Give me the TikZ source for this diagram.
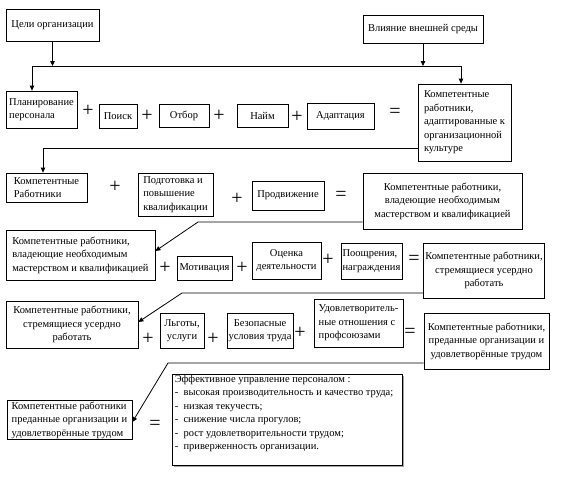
\documentclass[tikz,border=0pt]{standalone}
\usepackage{fontspec}
\setmainfont{Liberation Serif}
\usetikzlibrary{arrows.meta,shadows}
\begin{document}
\begin{tikzpicture}[x=1pt,y=-1pt,
  box/.style={draw, line width=0.8pt, inner sep=1.5pt, align=left,
    font=\fontsize{10.5}{13.5}\selectfont},
  cbox/.style={box, align=center},
  sign/.style={inner sep=0pt, font=\fontsize{20}{20}\selectfont},
  arr/.style={-{Triangle[length=5pt,width=4.5pt]}, line width=0.8pt},
  ln/.style={line width=0.8pt}]
\useasboundingbox[fill=white] (0,0) rectangle (562,477);

% top
\node[cbox, minimum width=93, minimum height=32] (tsel) at (52.5,25) {Цели организации};
\node[cbox, minimum width=120, minimum height=28] (vliy) at (423,29) {Влияние внешней среды};

% row 1
\node[box, minimum width=71, minimum height=37] (plan) at (41.5,109.5) {Планирование\\персонала};
\node[cbox, minimum width=38, minimum height=24] (poisk) at (118,116) {Поиск};
\node[cbox, minimum width=50, minimum height=23] (otbor) at (184,115.5) {Отбор};
\node[cbox, minimum width=51, minimum height=23] (naim) at (262.5,115.5) {Найм};
\node[cbox, minimum width=67, minimum height=26] (adapt) at (340.5,116) {Адаптация};
\node[box, minimum width=93, minimum height=77] (res1) at (464.5,122.5) {Компетентные\\работники,\\адаптированные к\\организационной\\культуре};
\node[sign] (p11) at (88,111) {+};
\node[sign] (p12) at (147,116) {+};
\node[sign] (p13) at (219,116) {+};
\node[sign] (p14) at (297,117) {+};
\node[sign] (e1) at (395,113) {=};

% row 2
\node[box, minimum width=81, minimum height=29] (kr) at (46.5,187.5) {Компетентные\\Работники};
\node[box, minimum width=75, minimum height=43] (podg) at (175.5,194.5) {Подготовка и\\повышение\\квалификации};
\node[cbox, minimum width=72, minimum height=29] (prod) at (288,195.5) {Продвижение};
\node[cbox, minimum width=159, minimum height=56] (res2) at (442.5,201) {Компетентные работники,\\владеющие необходимым\\мастерством и квалификацией};
\node[sign] (p21) at (115,187) {+};
\node[sign] (p22) at (237,199) {+};
\node[sign] (e2) at (341,196) {=};

% row 3
\node[box, minimum width=149, minimum height=50] (a3) at (80.5,255) {Компетентные работники,\\владеющие необходимым\\мастерством и квалификацией};
\node[cbox, minimum width=55, minimum height=24] (motiv) at (204.5,268) {Мотивация};
\node[cbox, minimum width=69, minimum height=37] (ocen) at (286.5,260.5) {Оценка\\деятельности};
\node[box, minimum width=61, minimum height=36] (poo) at (371.5,261) {Поощрения,\\награждения};
\node[cbox, minimum width=120, minimum height=55] (res3) at (484,270.5) {Компетентные работники,\\стремящиеся усердно\\работать};
\node[sign] (p31) at (165,268) {+};
\node[sign] (p32) at (242,268) {+};
\node[sign] (p33) at (328,260) {+};
\node[sign] (e3) at (414,260) {=};

% row 4
\node[cbox, minimum width=132, minimum height=47] (a4) at (72,324.5) {Компетентные работники,\\стремящиеся усердно\\работать};
\node[cbox, minimum width=44, minimum height=35] (lgoty) at (182,330.5) {Льготы,\\услуги};
\node[cbox, minimum width=66, minimum height=35] (bezop) at (260,330.5) {Безопасные\\условия труда};
\node[box, minimum width=89, minimum height=48] (udovl) at (358.5,323) {Удовлетворитель-\\ные отношения с\\профсоюзами};
\node[cbox, minimum width=125, minimum height=56] (res4) at (486.5,341) {Компетентные работники,\\преданные организации и\\удовлетворённые трудом};
\node[sign] (p41) at (148,339) {+};
\node[sign] (p42) at (213,339) {+};
\node[sign] (p43) at (300,333) {+};
\node[sign] (e4) at (410,333) {=};

% row 5
\node[box, minimum width=125, minimum height=36] (a5) at (69.5,420) {Компетентные работники\\преданные организации и\\удовлетворённые трудом};
\node[sign] (e5) at (155,425) {=};
\node[draw, line width=0.8pt, minimum width=230, minimum height=91,
  drop shadow={shadow xshift=1.5pt, shadow yshift=-1.5pt, fill=gray!70, opacity=1}, fill=white] (eff) at (287,419.5) {};
\node[anchor=north west, inner sep=0pt, align=left, font=\fontsize{10.5}{13.5}\selectfont] (efft)
  at ([xshift=3pt,yshift=-1pt]eff.north west)
  {Эффективное управление персоналом :\\
   -\ \ высокая производительность и качество труда;\\
   -\ \ низкая текучесть;\\
   -\ \ снижение числа прогулов;\\
   -\ \ рост удовлетворительности трудом;\\
   -\ \ приверженность организации.};

% top connectors
\coordinate (jl) at (32,66);
\coordinate (jr) at (461,66);
\draw[ln] (jl) -- (jr);
\draw[arr] (tsel.south) -- (tsel.south |- jl);
\draw[arr] (vliy.south) -- (vliy.south |- jl);
\draw[arr] (jl) -- (jl |- plan.north);
\draw[arr] (jr) -- (jr |- res1.north);

% row connectors
\coordinate (c1) at (43,148);
\draw[arr] (res1.west |- c1) -- (c1) -- (c1 |- kr.north);

\coordinate (c2) at (198,222);
\coordinate (t2) at (156,251);
\draw[arr] (res2.west |- c2) -- (c2) -- (a3.east |- t2);

\coordinate (c3) at (182,293);
\coordinate (t3) at (140,322);
\draw[arr] (res3.west |- c3) -- (c3) -- (a4.east |- t3);

\coordinate (c4) at (168,363);
\coordinate (t4) at (134,422);
\draw[arr] (res4.west |- c4) -- (c4) -- (a5.east |- t4);
\end{tikzpicture}
\end{document}
